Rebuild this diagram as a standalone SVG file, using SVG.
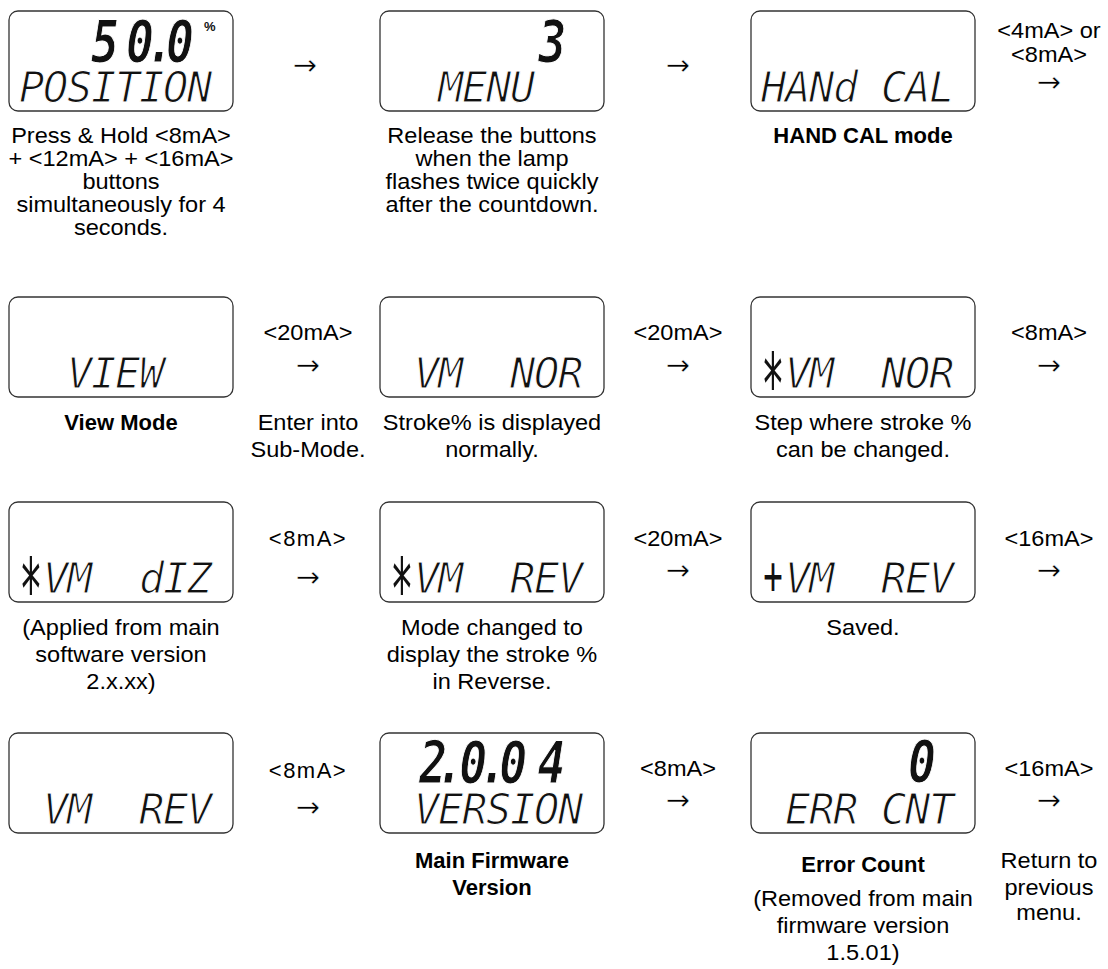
<svg xmlns="http://www.w3.org/2000/svg" width="1108" height="969" viewBox="0 0 1108 969">
<style>
.box{fill:#fff;stroke:#333;stroke-width:1.3}
.t{font-family:"Liberation Sans",Arial,sans-serif;font-size:22px;fill:#000;text-anchor:middle}
.r{transform-box:fill-box;transform-origin:center;transform:scaleX(1.07)}
.b{font-weight:bold}
.sp{letter-spacing:1.5px}
.ar{font-family:"DejaVu Sans",sans-serif;font-size:29px;fill:#000;text-anchor:middle;stroke:#fff;stroke-width:0.5}
.lcd{font-family:"DejaVu Sans Mono",monospace;font-style:italic;font-size:42px;letter-spacing:-1.3px;fill:#111;stroke:#fff;stroke-width:1.1}
.dig{font-family:"DejaVu Sans Mono",monospace;font-style:italic;font-weight:bold;font-size:58px;fill:#111;stroke:#fff;stroke-width:1}
.ast{font-family:"DejaVu Sans Mono",monospace;font-size:86px;fill:#111;text-anchor:middle}
.pl{font-family:"DejaVu Sans Mono",monospace;font-size:54px;fill:#111;text-anchor:middle}
.pct{font-family:"Liberation Sans",Arial,sans-serif;font-weight:bold;font-size:13px;fill:#111}
</style>
<rect x="0" y="0" width="1108" height="969" fill="#fff"/>

<g id="n-position">
<rect class="box" x="9" y="11" width="224" height="100" rx="9"/>
<text class="dig" transform="translate(9,62) scale(0.8,1)" x="102.5 146.25 171.25 196.25" y="0">50.0</text>
<text class="pct" x="204" y="31">%</text>
<text class="lcd" x="19" y="102">POSITION</text>
<text class="t r" x="121" y="143">Press &amp; Hold &lt;8mA&gt;</text>
<text class="t r" x="121" y="166">+ &lt;12mA&gt; + &lt;16mA&gt;</text>
<text class="t r" x="121" y="189">buttons</text>
<text class="t r" x="121" y="212">simultaneously for 4</text>
<text class="t r" x="121" y="235">seconds.</text>
</g>

<g id="n-menu">
<rect class="box" x="380" y="11" width="224" height="100" rx="9"/>
<text class="dig" transform="translate(380,62) scale(0.8,1)" x="198" y="0">3</text>
<text class="lcd" x="438" y="102">MENU</text>
<text class="t r" x="492" y="143">Release the buttons</text>
<text class="t r" x="492" y="166">when the lamp</text>
<text class="t r" x="492" y="189">flashes twice quickly</text>
<text class="t r" x="492" y="212">after the countdown.</text>
</g>

<g id="n-handcal">
<rect class="box" x="751" y="11" width="224" height="100" rx="9"/>
<text class="lcd" x="761" y="102">HANd CAL</text>
<text class="t b" x="863" y="143">HAND CAL mode</text>
</g>

<g id="n-view">
<rect class="box" x="9" y="297" width="224" height="100" rx="9"/>
<text class="lcd" x="67" y="388">VIEW</text>
<text class="t b" x="121" y="430">View Mode</text>
</g>

<g id="n-vm-nor">
<rect class="box" x="380" y="297" width="224" height="100" rx="9"/>
<text class="lcd" x="414" y="388" xml:space="preserve">VM  NOR</text>
<text class="t r" x="492" y="430">Stroke% is displayed</text>
<text class="t r" x="492" y="457">normally.</text>
</g>

<g id="n-star-vm-nor">
<rect class="box" x="751" y="297" width="224" height="100" rx="9"/>
<text class="ast" transform="translate(773,415) scale(0.45,1)">*</text>
<text class="lcd" x="785" y="388" xml:space="preserve">VM  NOR</text>
<text class="t r" x="863" y="430">Step where stroke %</text>
<text class="t r" x="863" y="457">can be changed.</text>
</g>

<g id="n-star-vm-diz">
<rect class="box" x="9" y="502" width="224" height="100" rx="9"/>
<text class="ast" transform="translate(31,620) scale(0.45,1)">*</text>
<text class="lcd" x="43" y="593" xml:space="preserve">VM  dIZ</text>
<text class="t r" x="121" y="635">(Applied from main</text>
<text class="t r" x="121" y="662">software version</text>
<text class="t r" x="121" y="689">2.x.xx)</text>
</g>

<g id="n-star-vm-rev">
<rect class="box" x="380" y="502" width="224" height="100" rx="9"/>
<text class="ast" transform="translate(402,620) scale(0.45,1)">*</text>
<text class="lcd" x="414" y="593" xml:space="preserve">VM  REV</text>
<text class="t r" x="492" y="635">Mode changed to</text>
<text class="t r" x="492" y="662">display the stroke %</text>
<text class="t r" x="492" y="689">in Reverse.</text>
</g>

<g id="n-plus-vm-rev">
<rect class="box" x="751" y="502" width="224" height="100" rx="9"/>
<text class="pl" transform="translate(773,594) scale(0.6,1)">+</text>
<text class="lcd" x="785" y="593" xml:space="preserve">VM  REV</text>
<text class="t r" x="863" y="635">Saved.</text>
</g>

<g id="n-vm-rev">
<rect class="box" x="9" y="733" width="224" height="100" rx="9"/>
<text class="lcd" x="43" y="824" xml:space="preserve">VM  REV</text>
</g>

<g id="n-version">
<rect class="box" x="380" y="733" width="224" height="100" rx="9"/>
<text class="dig" transform="translate(380,783) scale(0.8,1)" x="49 70 99 123.75 149 197" y="0">2.0.04</text>
<text class="lcd" x="414" y="824">VERSION</text>
<text class="t b" x="492" y="868">Main Firmware</text>
<text class="t b" x="492" y="895">Version</text>
</g>

<g id="n-errcnt">
<rect class="box" x="751" y="733" width="224" height="100" rx="9"/>
<text class="dig" transform="translate(751,782) scale(0.8,1)" x="196.25" y="0">0</text>
<text class="lcd" x="785" y="824">ERR CNT</text>
<text class="t b" x="863" y="872">Error Count</text>
<text class="t r" x="863" y="906">(Removed from main</text>
<text class="t r" x="863" y="933">firmware version</text>
<text class="t r" x="863" y="960">1.5.01)</text>
</g>

<g id="connectors">
<text class="ar" x="305" y="75">→</text>
<text class="ar" x="678" y="75">→</text>
<text class="t r" x="1049" y="38">&lt;4mA&gt; or</text>
<text class="t r" x="1049" y="62">&lt;8mA&gt;</text>
<text class="ar" x="1049" y="92">→</text>

<text class="t r" x="308" y="340">&lt;20mA&gt;</text>
<text class="ar" x="308" y="375">→</text>
<text class="t r" x="308" y="430">Enter into</text>
<text class="t r" x="308" y="457">Sub-Mode.</text>
<text class="t r" x="678" y="340">&lt;20mA&gt;</text>
<text class="ar" x="678" y="375">→</text>
<text class="t r" x="1049" y="340">&lt;8mA&gt;</text>
<text class="ar" x="1049" y="375">→</text>

<text class="t sp" x="308" y="546">&lt;8mA&gt;</text>
<text class="ar" x="308" y="587">→</text>
<text class="t r" x="678" y="546">&lt;20mA&gt;</text>
<text class="ar" x="678" y="580">→</text>
<text class="t r" x="1049" y="546">&lt;16mA&gt;</text>
<text class="ar" x="1049" y="580">→</text>

<text class="t sp" x="308" y="778">&lt;8mA&gt;</text>
<text class="ar" x="308" y="817">→</text>
<text class="t r" x="678" y="776">&lt;8mA&gt;</text>
<text class="ar" x="678" y="810">→</text>
<text class="t r" x="1049" y="776">&lt;16mA&gt;</text>
<text class="ar" x="1049" y="810">→</text>
<text class="t r" x="1049" y="868">Return to</text>
<text class="t r" x="1049" y="895">previous</text>
<text class="t r" x="1049" y="920">menu.</text>
</g>
</svg>
